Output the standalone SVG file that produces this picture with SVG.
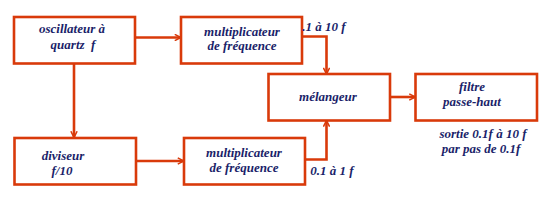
<svg xmlns="http://www.w3.org/2000/svg" width="547" height="203" viewBox="0 0 547 203">
<defs>
<style>
.box{fill:none;stroke:#d93a0a;stroke-width:2.6}
.ln{fill:none;stroke:#d93a0a;stroke-width:2.6;marker-end:url(#ah)}
text{font-family:"Liberation Serif",serif;font-weight:700;font-style:italic;font-size:13px;fill:#1b1f6a;text-anchor:middle}
</style>
<marker id="ah" viewBox="0 0 10 10" refX="9" refY="5" markerWidth="3" markerHeight="3" orient="auto" markerUnits="strokeWidth">
<path d="M1,1 L9,5 L1,9" fill="none" stroke="#d93a0a" stroke-width="2"/>
</marker>
</defs>
<rect width="547" height="203" fill="#fff"/>
<g id="connectors">
<path class="ln" d="M135,37.5 H181"/>
<path class="ln" d="M74,64 V137.5"/>
<path class="ln" d="M136,161 H184"/>
<path class="ln" d="M302,36.5 H326.5 V74"/>
<path class="ln" d="M305,159.5 H326.5 V120.5"/>
<path class="ln" d="M390,97 H415.5"/>
</g>
<g id="osc">
<rect class="box" x="14" y="17" width="121" height="46.5"/>
<text x="72" y="33">oscillateur à</text>
<text x="73" y="49" xml:space="preserve">quartz  f</text>
</g>
<g id="mult1">
<rect class="box" x="181" y="17" width="121" height="46.5"/>
<text x="242" y="36">multiplicateur</text>
<text x="242" y="50">de fréquence</text>
</g>
<g id="div">
<rect class="box" x="14.5" y="138" width="121.5" height="46.5"/>
<text x="63" y="160">diviseur</text>
<text x="62" y="175">f/10</text>
</g>
<g id="mult2">
<rect class="box" x="184" y="138" width="121" height="46.5"/>
<text x="244" y="157">multiplicateur</text>
<text x="244" y="172">de fréquence</text>
</g>
<g id="mel">
<rect class="box" x="268.5" y="74" width="121.5" height="46.5"/>
<text x="328" y="101">mélangeur</text>
</g>
<g id="filtre">
<rect class="box" x="415.5" y="74" width="121.5" height="46.5"/>
<text x="472" y="91">filtre</text>
<text x="472" y="106">passe-haut</text>
</g>
<g id="labels">
<text x="324" y="31">.1 à 10 f</text>
<text x="332" y="175">0.1 à 1 f</text>
<text x="483" y="138">sortie 0.1f à 10 f</text>
<text x="481" y="152.5">par pas de 0.1f</text>
</g>
</svg>
